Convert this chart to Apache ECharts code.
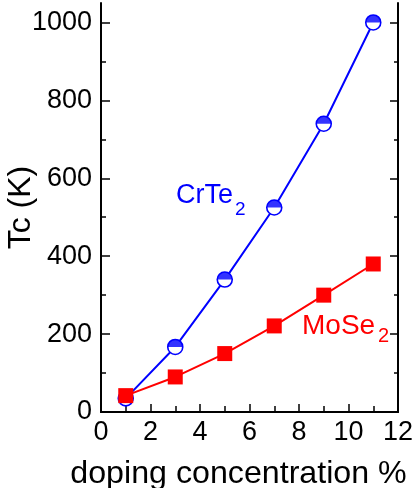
<!DOCTYPE html>
<html><head><meta charset="utf-8">
<script src="https://cdn.jsdelivr.net/npm/echarts@6/dist/echarts.min.js"></script>
<style>html,body{margin:0;padding:0;background:#fff}#c{width:414px;height:488px}</style>
</head><body><div id="c"></div>
<script>
const dopings = [1, 3, 5, 7, 9, 11];
const tcCrTe2 = [35, 167, 340, 525, 740, 1000];
const tcMoSe2 = [42, 90, 150, 221, 300, 380];
const yMajorTicks = [0, 200, 400, 600, 800, 1000];
const yMinorTicks = [100, 300, 500, 700, 900];

const FONT = '"Liberation Sans", Arial, sans-serif';
const pairs = a => dopings.map((x, i) => [x, a[i]]);
const chart = echarts.init(document.getElementById('c'));
const yBase = {type:'value', min:0, max:1050, splitLine:{show:false}};
chart.setOption({
  animation:false,
  grid:{left:101, right:16, top:3, bottom:76, containLabel:false, outerBoundsMode:'none'},
  xAxis:[
    {type:'value', min:0, max:12, interval:2, position:'bottom',
     axisLine:{lineStyle:{color:'#000', width:2}},
     axisTick:{inside:true, length:8, lineStyle:{color:'#000', width:1.5}},
     minorTick:{show:true, splitNumber:2, length:6, lineStyle:{color:'#000', width:1.5}},
     splitLine:{show:false}, minorSplitLine:{show:false},
     axisLabel:{fontFamily:FONT, fontSize:27, color:'#000', margin:7, formatter:v => String(v)},
     name:'doping concentration %', nameLocation:'middle', nameGap:46, nameMoveOverlap:false,
     nameTextStyle:{fontFamily:FONT, fontSize:32.2, color:'#000', padding:[0, 22, 0, 0]}},
    {type:'value', min:0, max:12, interval:2, position:'top',
     axisLine:{lineStyle:{color:'#000', width:2}}, axisTick:{show:false},
     axisLabel:{show:false}, splitLine:{show:false}}
  ],
  yAxis:[
    Object.assign({}, yBase, {position:'left',
     axisLine:{show:true, lineStyle:{color:'#000', width:2}},
     axisTick:{show:true, inside:true, length:9, customValues:yMajorTicks, lineStyle:{color:'#000', width:1.5}},
     axisLabel:{customValues:yMajorTicks, fontFamily:FONT, fontSize:27, color:'#000', margin:9, formatter:v => String(v)},
     name:'Tc (K)', nameLocation:'middle', nameGap:64, nameRotate:90, nameMoveOverlap:false,
     nameTextStyle:{fontFamily:FONT, fontSize:32, color:'#000'}}),
    Object.assign({}, yBase, {position:'left',
     axisLine:{show:false},
     axisTick:{show:true, inside:true, length:5, customValues:yMinorTicks, lineStyle:{color:'#000', width:1.5}},
     axisLabel:{show:false}}),
    Object.assign({}, yBase, {position:'right',
     axisLine:{show:true, lineStyle:{color:'#000', width:2}},
     axisTick:{show:true, inside:true, length:8, customValues:yMajorTicks, lineStyle:{color:'#000', width:1.5}},
     axisLabel:{show:false}}),
    Object.assign({}, yBase, {position:'right',
     axisLine:{show:false},
     axisTick:{show:true, inside:true, length:4, customValues:yMinorTicks, lineStyle:{color:'#000', width:1.5}},
     axisLabel:{show:false}})
  ],
  series:[
    {name:'CrTe2', type:'line', data:pairs(tcCrTe2), symbol:'circle', symbolSize:15,
     lineStyle:{color:'#0000ff', width:2},
     itemStyle:{color:'#ffffff', borderColor:'#0000ff', borderWidth:1.6}, z:2},
    {name:'CrTe2 half', type:'scatter', data:pairs(tcCrTe2),
     symbol:'path://M0,10 A10,10 0 0 1 20,10 Z', symbolSize:[15,7.5], symbolOffset:[0,'-50%'],
     itemStyle:{color:'#0000ff'}, z:3},
    {name:'MoSe2', type:'line', data:pairs(tcMoSe2), symbol:'rect', symbolSize:15,
     lineStyle:{color:'#ff0000', width:2},
     itemStyle:{color:'#ff0000'}, z:4}
  ],
  graphic:[
    {type:'text', left:176, top:182, style:{text:'CrTe', fontFamily:FONT, fontSize:27, fill:'#0000ff'}},
    {type:'text', left:235, top:200, style:{text:'2', fontFamily:FONT, fontSize:19, fill:'#0000ff'}},
    {type:'text', left:302, top:312, style:{text:'MoSe', fontFamily:FONT, fontSize:28, fill:'#ff0000'}},
    {type:'text', left:378, top:326, style:{text:'2', fontFamily:FONT, fontSize:20, fill:'#ff0000'}}
  ]
});
</script></body></html>
